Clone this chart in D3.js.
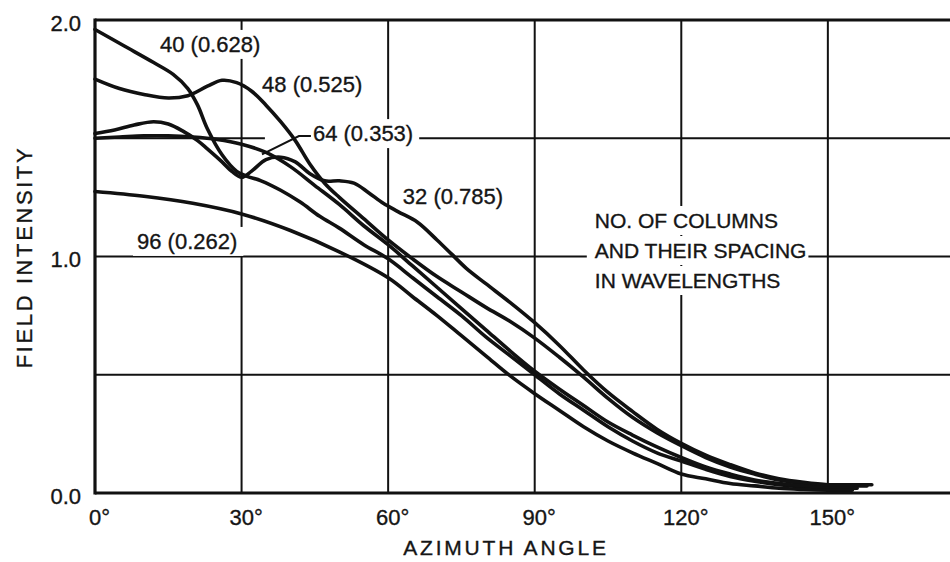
<!DOCTYPE html>
<html>
<head>
<meta charset="utf-8">
<script src="https://cdn.jsdelivr.net/npm/d3@7"></script>
<style>
  html, body { margin: 0; padding: 0; background: #fff; }
  svg { display: block; }
  text { font-family: "Liberation Sans", Arial, Helvetica, sans-serif; fill: #151515; stroke: #151515; stroke-width: 0.35px; }
</style>
</head>
<body>
<svg id="chart" width="950" height="562"></svg>
<script>
// Field intensity versus azimuth angle, one curve per array configuration.
// Each entry: [azimuth angle in degrees, field intensity]
const series32 = [[0,1.52],[4,1.535],[8,1.556],[12,1.57],[15,1.56],[18,1.53],[21,1.49],[23,1.455],[26,1.40],[28,1.36],[30,1.335],[32,1.36],[35,1.41],[38,1.42],[41,1.40],[44,1.35],[47,1.32],[50,1.32],[53,1.31],[56,1.27],[59,1.225],[62,1.19],[66,1.145],[70,1.07],[73,1.01],[76,0.95],[80,0.885],[85,0.805],[90,0.72],[95,0.625],[100,0.52],[105,0.425],[110,0.345],[115,0.27],[120,0.21],[125,0.16],[130,0.12],[135,0.085],[140,0.06],[145,0.045],[150,0.035],[155,0.035],[159,0.035]];
const series40 = [[0,1.96],[6,1.89],[12,1.82],[16,1.77],[19,1.71],[21,1.64],[23,1.54],[26,1.43],[29,1.36],[31,1.34],[34,1.32],[38,1.28],[42,1.23],[46,1.17],[50,1.12],[55,1.05],[60,0.99],[65,0.91],[70,0.83],[75,0.75],[80,0.66],[85,0.58],[90,0.50],[95,0.42],[100,0.35],[105,0.28],[110,0.22],[115,0.17],[120,0.135],[125,0.10],[130,0.07],[135,0.05],[140,0.035],[145,0.025],[150,0.02],[155,0.02]];
const series48 = [[0,1.75],[5,1.71],[10,1.685],[15,1.67],[19,1.68],[23,1.72],[26,1.745],[29,1.735],[32,1.70],[35,1.64],[38,1.57],[41,1.49],[44,1.39],[47,1.31],[50,1.25],[55,1.16],[60,1.07],[65,0.99],[70,0.915],[75,0.85],[80,0.785],[85,0.725],[90,0.655],[95,0.575],[100,0.49],[105,0.40],[110,0.32],[115,0.255],[120,0.20],[125,0.15],[130,0.11],[135,0.08],[140,0.055],[145,0.04],[150,0.03],[155,0.03],[158,0.03]];
const series64 = [[0,1.50],[5,1.505],[10,1.51],[15,1.51],[20,1.505],[25,1.495],[30,1.475],[35,1.44],[40,1.38],[45,1.30],[50,1.22],[55,1.13],[60,1.05],[65,0.96],[70,0.87],[75,0.78],[80,0.69],[85,0.60],[90,0.515],[95,0.44],[100,0.37],[105,0.30],[110,0.245],[115,0.195],[120,0.15],[125,0.11],[130,0.08],[135,0.055],[140,0.04],[145,0.03],[150,0.02],[156,0.02]];
const series96 = [[0,1.275],[10,1.255],[20,1.225],[30,1.18],[40,1.11],[50,1.02],[60,0.91],[65,0.83],[70,0.75],[75,0.665],[80,0.58],[85,0.495],[90,0.42],[95,0.35],[100,0.28],[105,0.22],[110,0.17],[115,0.125],[120,0.08],[125,0.06],[130,0.04],[135,0.03],[140,0.02],[145,0.015],[150,0.012],[155,0.012]];

// Curve captions: number of columns (spacing in wavelengths)
const curveLabels = ["32 (0.785)", "40 (0.628)", "48 (0.525)", "64 (0.353)", "96 (0.262)"];
// Caption anchor (left end of baseline) in data units
const labelAnchors = [[63.0,1.222],[13.3,1.865],[34.2,1.696],[44.6,1.488],[8.6,1.032]];

const angleTicks = [0, 30, 60, 90, 120, 150];
const intensityTicks = [0, 1, 2];
const intensityGrid = [0.5, 1, 1.5, 2];
const noteLines = ["NO. OF COLUMNS", "AND THEIR SPACING", "IN WAVELENGTHS"];

const W = 950, H = 562;
const svg = d3.select("#chart");
svg.append("rect").attr("width", W).attr("height", H).attr("fill", "#fff");

const x = d3.scaleLinear().domain([0, 175]).range([95, 950]);
const y = d3.scaleLinear().domain([0, 2]).range([493, 20]);

const gGrid = svg.append("g");
const gBg = svg.append("g");
const gCurves = svg.append("g");
const gFrame = svg.append("g");
const gText = svg.append("g");

// grid
gGrid.selectAll("line.v").data(angleTicks.filter(d => d > 0)).join("line")
  .attr("x1", d => x(d)).attr("x2", d => x(d))
  .attr("y1", y(0)).attr("y2", y(2))
  .attr("stroke", "#111").attr("stroke-width", 2);
gGrid.selectAll("line.h").data(intensityGrid).join("line")
  .attr("x1", x(0)).attr("x2", W)
  .attr("y1", d => y(d)).attr("y2", d => y(d))
  .attr("stroke", "#111").attr("stroke-width", d => d === 2 ? 3 : 2);

// curves
const line = d3.line().x(d => x(d[0])).y(d => y(d[1])).curve(d3.curveCatmullRom.alpha(0.5));
const allSeries = [series32, series40, series48, series64, series96];
gCurves.selectAll("path").data(allSeries).join("path")
  .attr("d", line)
  .attr("fill", "none").attr("stroke", "#111")
  .attr("stroke-width", 3.6).attr("stroke-linejoin", "round").attr("stroke-linecap", "round");

// frame: left and bottom axis lines
gFrame.append("line").attr("x1", x(0)).attr("x2", x(0)).attr("y1", y(0) + 1.5).attr("y2", y(2) - 1.5)
  .attr("stroke", "#111").attr("stroke-width", 3.2);
gFrame.append("line").attr("x1", x(0)).attr("x2", W).attr("y1", y(0)).attr("y2", y(0))
  .attr("stroke", "#111").attr("stroke-width", 3.2);

// axes (labels only)
const yAxis = d3.axisLeft(y).tickValues(intensityTicks).tickFormat(d3.format(".1f")).tickSize(0).tickPadding(14);
const gy = svg.append("g").attr("transform", `translate(${x(0)},3)`).call(yAxis);
gy.select(".domain").remove();
gy.selectAll("text").attr("font-size", 22).attr("font-family", "Liberation Sans, Arial, sans-serif").attr("fill", "#151515");

const xAxis = d3.axisBottom(x).tickValues(angleTicks).tickFormat(d => d + "°").tickSize(0).tickPadding(16);
const gx = svg.append("g").attr("transform", `translate(0,${y(0)})`).call(xAxis);
gx.select(".domain").remove();
gx.selectAll("text").attr("font-size", 22).attr("dx", 4).attr("font-family", "Liberation Sans, Arial, sans-serif").attr("fill", "#151515");

// axis titles
svg.append("text").attr("x", 506).attr("y", 555).attr("text-anchor", "middle")
  .attr("font-size", 21).attr("letter-spacing", 2.8).text("AZIMUTH ANGLE");
svg.append("text").attr("transform", "translate(32,257) rotate(-90)").attr("text-anchor", "middle")
  .attr("font-size", 22).attr("letter-spacing", 2.6).text("FIELD INTENSITY");

// curve captions with white backing so the grid breaks around them
const labelSel = gText.selectAll("text.cap").data(curveLabels).join("text")
  .attr("class", "cap")
  .attr("x", (d, i) => x(labelAnchors[i][0]))
  .attr("y", (d, i) => y(labelAnchors[i][1]))
  .attr("font-size", 22)
  .text(d => d);

labelSel.each(function (d, i) {
  const b = this.getBBox();
  const padL = d.startsWith("64") ? 48 : 4;
  gBg.append("rect")
    .attr("x", b.x - padL).attr("y", b.y - 2)
    .attr("width", b.width + padL + 6).attr("height", b.height + 4)
    .attr("fill", "#fff");
});

// leader from the 64-column curve to its caption
const leaderPt = series64.find(p => p[0] === 35);
const capX = x(labelAnchors[3][0]), capY = y(labelAnchors[3][1]);
gText.append("path")
  .attr("d", d3.line()([[x(leaderPt[0]) - 4, y(leaderPt[1]) + 2], [capX - 14, capY - 5], [capX - 2, capY - 5]]))
  .attr("fill", "none").attr("stroke", "#111").attr("stroke-width", 2);

// explanatory note
const noteSel = gText.selectAll("text.note").data(noteLines).join("text")
  .attr("class", "note")
  .attr("x", x(102.3))
  .attr("y", (d, i) => 228 + i * 30)
  .attr("font-size", 21)
  .text(d => d);
noteSel.each(function () {
  const b = this.getBBox();
  gBg.append("rect")
    .attr("x", b.x - 8).attr("y", b.y - 3)
    .attr("width", b.width + 10).attr("height", b.height + 6)
    .attr("fill", "#fff");
});
</script>
</body>
</html>
